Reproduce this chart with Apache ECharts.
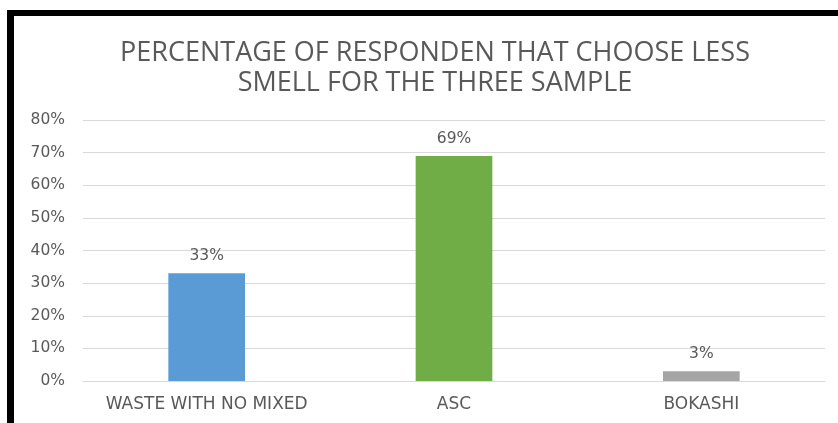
<!DOCTYPE html>
<html><head><meta charset="utf-8">
<script src="https://cdn.jsdelivr.net/npm/echarts@6/dist/echarts.min.js"></script>
<style>html,body{margin:0;padding:0;background:#fff}#c{width:838px;height:423px}</style>
</head><body><div id="c"></div>
<script>
const categories = ['WASTE WITH NO MIXED', 'ASC', 'BOKASHI'];
const values = [33, 69, 3];
const barColors = ['#5b9bd5', '#70ad47', '#a5a5a5'];
const titleText = 'PERCENTAGE OF RESPONDEN THAT CHOOSE LESS\nSMELL FOR THE THREE SAMPLE';

const chart = echarts.init(document.getElementById('c'));
chart.setOption({
  backgroundColor: '#ffffff',
  animation: false,
  title: {
    text: titleText,
    left: 430, top: 33, textAlign: 'center',
    textStyle: { fontFamily: 'Open Sans', fontWeight: 'normal', fontSize: 27, color: '#595959', lineHeight: 30 }
  },
  graphic: [
    { type: 'rect', shape: { x: 7, y: 10, width: 831, height: 6 }, style: { fill: '#000' } },
    { type: 'rect', shape: { x: 7, y: 10, width: 7, height: 413 }, style: { fill: '#000' } }
  ],
  grid: { left: 83, right: 13, top: 120, bottom: 42 },
  xAxis: {
    type: 'category', data: categories,
    axisLine: { lineStyle: { color: '#d9d9d9' } },
    axisTick: { show: false },
    axisLabel: { interval: 0, color: '#595959', fontFamily: 'DejaVu Sans', fontSize: 17, margin: 15 }
  },
  yAxis: {
    type: 'value', min: 0, max: 80, interval: 10,
    axisLabel: { formatter: '{value}%', color: '#595959', fontFamily: 'DejaVu Sans', fontSize: 15.5, margin: 18 },
    splitLine: { lineStyle: { color: '#d9d9d9' } },
    axisLine: { show: false }, axisTick: { show: false }
  },
  series: [{
    type: 'bar',
    data: values.map((v, i) => ({ value: v, itemStyle: { color: barColors[i] } })),
    barWidth: '31%',
    label: { show: true, position: 'top', formatter: '{c}%', color: '#595959', fontFamily: 'DejaVu Sans', fontSize: 15.5, distance: 9 }
  }]
});
</script></body></html>
